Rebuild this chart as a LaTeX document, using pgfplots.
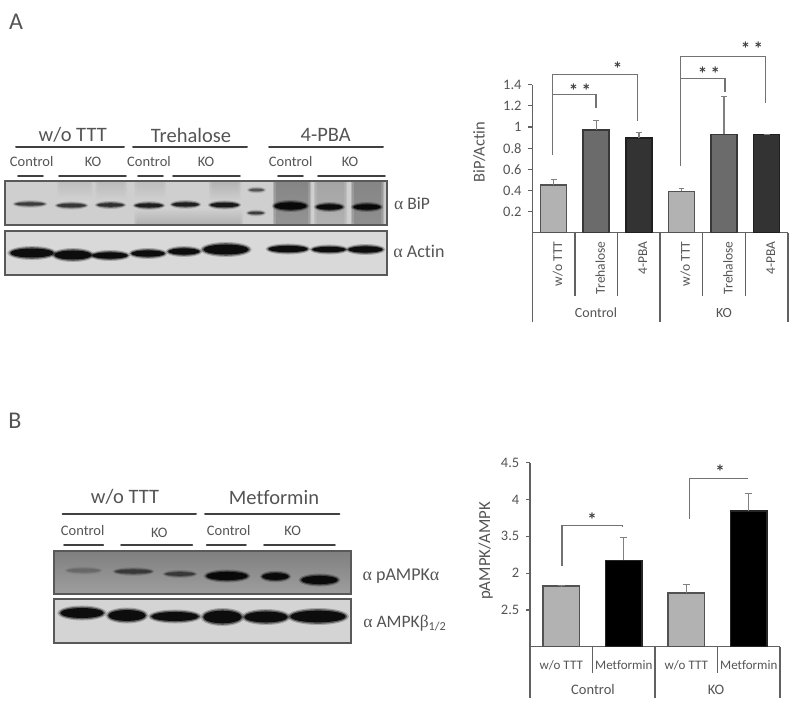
\documentclass[border=0pt]{standalone}
\usepackage{pgfplots}
\pgfplotsset{compat=1.18}
\usepackage{fontspec}
\setmainfont[Ligatures=NoCommon]{Carlito}
\newfontfamily\gk{Liberation Serif}
\definecolor{txt}{gray}{0.33}
\definecolor{ax}{gray}{0.38}
\definecolor{brk}{gray}{0.45}
\newcommand{\PX}[1]{\pgfmathsetmacro{\fsz}{#1*0.75}\fontsize{\fsz pt}{\fsz pt}\selectfont}
% band: x1 x2 yc h darkness (percent black)
\newcommand{\band}[5]{%
  \pgfmathsetmacro{\cx}{(#1+#2)/2}\pgfmathsetmacro{\rx}{(#2-#1)/2}\pgfmathsetmacro{\ry}{#4/2}%
  \fill[black!#5,opacity=.22] (\cx,#3) ellipse [x radius=\rx*1.05+1.5,y radius=\ry+2];
  \fill[black!#5,opacity=.45] (\cx,#3) ellipse [x radius=\rx*1.02+.5,y radius=\ry+.8];
  \fill[black!#5,opacity=.85] (\cx,#3) ellipse [x radius=\rx*.98,y radius=\ry*.9];
}
% soft lane: x1 x2 y1 y2 top% bottom%
\newcommand{\lane}[6]{%
  \foreach \e/\o in {3/.35,1.5/.45,0/.6}{%
    \shade[top color=black!#5,bottom color=black!#6,opacity=\o]
      (#1-\e,#3) rectangle (#2+\e,#4);}%
}
\newcommand{\lab}[4][]{\node[text=txt,inner sep=0pt,#1] at (#2,#3) {#4};}
\tikzset{hl/.style={line width=1.5pt,black!75,line cap=round}}
\begin{document}
\begin{tikzpicture}
\begin{scope}[x=0.75pt,y=-0.75pt]
\path (0,0) rectangle (800,709);
\lab{16}{22}{\PX{24}A}
\lab{15}{421}{\PX{24}B}
% ---- Blot A ----
\fill[black!19] (5,181) rectangle (387,225);
\lane{60}{90}{183}{203}{26}{16}
\lane{98}{124}{183}{203}{27}{17}
\lane{137}{163}{183}{203}{26}{17}
\lane{212}{238}{183}{203}{30}{17}
\lane{137}{240}{208}{224}{18}{32}
\lane{276}{308}{182}{224}{52}{46}
\lane{317}{344}{182}{224}{38}{32}
\lane{354}{381}{182}{224}{52}{48}
\foreach \a/\b/\y/\h/\d in {15/45/204/3.5/80,57/86/205.5/4/82,97/124/205/4/85,135/163/205.5/4.5/92,172/199/204.5/4.5/92,210/239/205/5/95,249/264/190/2.5/70,248/264/213/2.5/80,274/307/206/8/100,316/343/207/6/100,353/381/207/6/100}{\band{\a}{\b}{\y}{\h}{\d}}
\draw[line width=1.1pt,black!65] (5,181) rectangle (387,225);
\fill[black!15] (5,231) rectangle (387,275);
\foreach \a/\b/\y/\h/\d in {10/54/253/10/100,54/92/255/10/100,92/128/255.5/7/100,131/165/253.5/7/100,168/200/251.5/7/100,203/249/249.5/11/100,268/308/249/7/100,312/346/249.5/6/100,348/383/249.5/7/100}{\band{\a}{\b}{\y}{\h}{\d}}
\draw[line width=1.1pt,black!65] (5,231) rectangle (387,275);
\foreach \a/\b in {16/124,133/247,269/383}{\draw[hl] (\a,147.3)--(\b,147.3);}
\foreach \a/\b in {18/43,59/126,138/163,173/240,278/303,318/385}{\draw[hl,line width=1.3pt] (\a,175.7)--(\b,175.7);}
\lab{72.7}{135}{\PX{20.5}w/o TTT}
\lab{191}{135}{\PX{20.5}Trehalose}
\lab{325.7}{135}{\PX{20.5}4-PBA}
\foreach \x/\t in {31.7/Control,93/KO,149/Control,206/KO,290.7/Control,350/KO}{\lab{\x}{161.7}{\PX{14.5}\t}}
\lab{412}{204}{\PX{17.5}{\gk α} BiP}
\lab{419}{251}{\PX{18}{\gk α} Actin}
% ---- Blot B ----
\shade[top color=black!50,bottom color=black!38] (54,551) rectangle (351,594);
\foreach \a/\b/\y/\h/\d in {67/100/570.5/4/60,115/152/571.5/4.5/80,165/195/574/4/80,206/248/576/9/100,262/289/576.5/7.5/100,301/338/580/9/100}{\band{\a}{\b}{\y}{\h}{\d}}
\draw[line width=1.1pt,black!65] (54,551) rectangle (351,594);
\fill[black!17] (54,599) rectangle (351,643);
\foreach \a/\b/\y/\h/\d in {60/104/613/11/100,108/146/615.5/12/100,151/199/616.5/10/100,203/242/617/14/100,244/288/617/12/100,290/346/616.5/13/100}{\band{\a}{\b}{\y}{\h}{\d}}
\draw[line width=1.1pt,black!65] (54,599) rectangle (351,643);
\foreach \a/\b in {62.7/196,205/339.3}{\draw[hl] (\a,513.7)--(\b,513.7);}
\foreach \a/\b in {64/103.3,121/192.3,206.7/246,264/335}{\draw[hl,line width=1.3pt] (\a,545.3)--(\b,545.3);}
\lab{125}{497.3}{\PX{20.5}w/o TTT}
\lab{274}{497.3}{\PX{20.5}Metformin}
\foreach \x/\y/\t in {82.7/531/Control,159.3/532.7/KO,228.7/531/Control,292.7/531/KO}{\lab{\x}{\y}{\PX{14.5}\t}}
\lab{401}{576}{\PX{18}{\gk α} pAMPK{\gk α}}
\lab{405}{623}{\PX{17.5}{\gk α} AMPK{\gk β}\textsubscript{1/2}}
% ---- separators ----
\begin{scope}[ax,line width=.9pt]
\draw (532.3,233)--(532.3,322); \draw (660,233)--(660,322); \draw (788,233)--(788,322);
\draw (574.9,233)--(574.9,296); \draw (617.5,233)--(617.5,296); \draw (702.6,233)--(702.6,296); \draw (745.3,233)--(745.3,296);
\draw (530,647)--(530,698); \draw (655,647)--(655,698); \draw (780,647)--(780,698);
\draw (592.5,647)--(592.5,673); \draw (717.5,647)--(717.5,673);
\end{scope}
\lab{596}{313}{\PX{14}Control}
\lab{724}{313}{\PX{14}KO}
\lab{593}{690}{\PX{14.5}Control}
\lab{716}{690}{\PX{14.5}KO}
% ---- brackets ----
\begin{scope}[brk,line width=1pt]
\draw (552.3,155)--(552.3,74.3)--(637.3,74.3)--(637.3,120.7);
\draw (552.3,94.3)--(596,94.3)--(596,108);
\draw (680.7,166)--(680.7,56.7)--(765.7,56.7)--(765.7,102.7);
\draw (680.7,78.3)--(725,78.3)--(725,91.7);
\draw (562,566)--(562,525.7)--(622.7,525.7)--(622.7,527);
\draw (689.3,519)--(689.3,478.3)--(747.7,478.3);
\end{scope}
\foreach \x/\y/\t in {580/91/{*\,*},617.7/69/*,709/74/{*\,*},752/49/{*\,*},592/520/*,720/472/*}{\node[text=black!75,inner sep=0pt] at (\x,\y) {\PX{19}\textbf{\t}};}
\end{scope}
% ---- chart A ----
\begin{axis}[
  at={(532.3*0.75pt,-232.7*0.75pt)},anchor=south west,
  scale only axis,width=255.7*0.75pt,height=148*0.75pt,
  xmin=-0.5,xmax=5.5,ymin=0,ymax=1.4,
  axis y line=left,axis x line=bottom,
  axis line style={ax,line width=.9pt,-},
  every tick/.style={ax,line width=.9pt},
  tick align=outside,major tick length=3pt,
  xtick={0,...,5},xticklabels={w/o TTT,Trehalose,4-PBA,w/o TTT,Trehalose,4-PBA},
  x tick style={draw=none},
  xticklabel style={rotate=90,anchor=east,text=txt,font=\PX{13.5},yshift=-3pt},
  ytick={0.2,0.4,0.6,0.8,1,1.2,1.4},yticklabels={0.2,0.4,0.6,0.8,1,1.2,1.4},
  /pgf/number format/assume math mode=true,
  yticklabel style={text=txt,font=\PX{14.5},xshift=-1.5pt},
  ylabel={BiP/Actin},ylabel style={text=txt,font=\PX{16.5},at={(axis description cs:-0.165,0.545)},anchor=south},
  ybar,bar width=26*0.75pt,
  clip=false,
]
\addplot[bar shift=0pt,fill=black!30,draw=black!68,line width=1.1pt,
  error bars/.cd,y dir=plus,y explicit,error bar style={black!50,line width=1pt},error mark options={rotate=90,black!50,mark size=2.2pt}]
  coordinates {(0,0.451)+-(0,0.054) (3,0.390)+-(0,0.033)};
\addplot[bar shift=0pt,fill=black!58,draw=black!78,line width=1.1pt,
  error bars/.cd,y dir=plus,y explicit,error bar style={black!50,line width=1pt},error mark options={rotate=90,black!50,mark size=2.2pt}]
  coordinates {(1,0.970)+-(0,0.090) (4,0.930)+-(0,0.363)};
\addplot[bar shift=0pt,fill=black!80,draw=black!88,line width=1.1pt,
  error bars/.cd,y dir=plus,y explicit,error bar style={black!50,line width=1pt},error mark options={rotate=90,black!50,mark size=2.2pt}]
  coordinates {(2,0.896)+-(0,0.050) (5,0.927)+-(0,0.007)};
\end{axis}
% ---- chart B ----
\begin{axis}[
  at={(530*0.75pt,-646.7*0.75pt)},anchor=south west,
  scale only axis,width=250*0.75pt,height=184*0.75pt,
  xmin=-0.5,xmax=3.5,ymin=2,ymax=4.5,
  axis y line=left,axis x line=bottom,
  axis line style={ax,line width=.9pt,-},
  every tick/.style={ax,line width=.9pt},
  tick align=outside,major tick length=3pt,
  xtick={0,...,3},xticklabels={w/o TTT,Metformin,w/o TTT,Metformin},
  x tick style={draw=none},
  xticklabel style={text=txt,font=\PX{13},yshift=-3.5pt},
  ytick={2.5,3,3.5,4,4.5},yticklabels={2.5,2,3.5,4,4.5},
  /pgf/number format/assume math mode=true,
  yticklabel style={text=txt,font=\PX{14.5},xshift=-1.5pt},
  ylabel={pAMPK/AMPK},ylabel style={text=txt,font=\PX{16.8},at={(axis description cs:-0.13,0.52)},anchor=south},
  ybar,bar width=36.5*0.75pt,
  clip=false,
]
\addplot[bar shift=0pt,fill=black!30,draw=black!68,line width=1.1pt,
  error bars/.cd,y dir=plus,y explicit,error bar style={black!50,line width=1pt},error mark options={rotate=90,black!50,mark size=2.8pt}]
  coordinates {(0,2.824)+-(0,0.005) (2,2.730)+-(0,0.117)};
\addplot[bar shift=0pt,fill=black,draw=black!85,line width=1.1pt,
  error bars/.cd,y dir=plus,y explicit,error bar style={black!50,line width=1pt},error mark options={rotate=90,black!50,mark size=2.8pt}]
  coordinates {(1,3.173)+-(0,0.317) (3,3.843)+-(0,0.240)};
\end{axis}
\end{tikzpicture}
\end{document}
